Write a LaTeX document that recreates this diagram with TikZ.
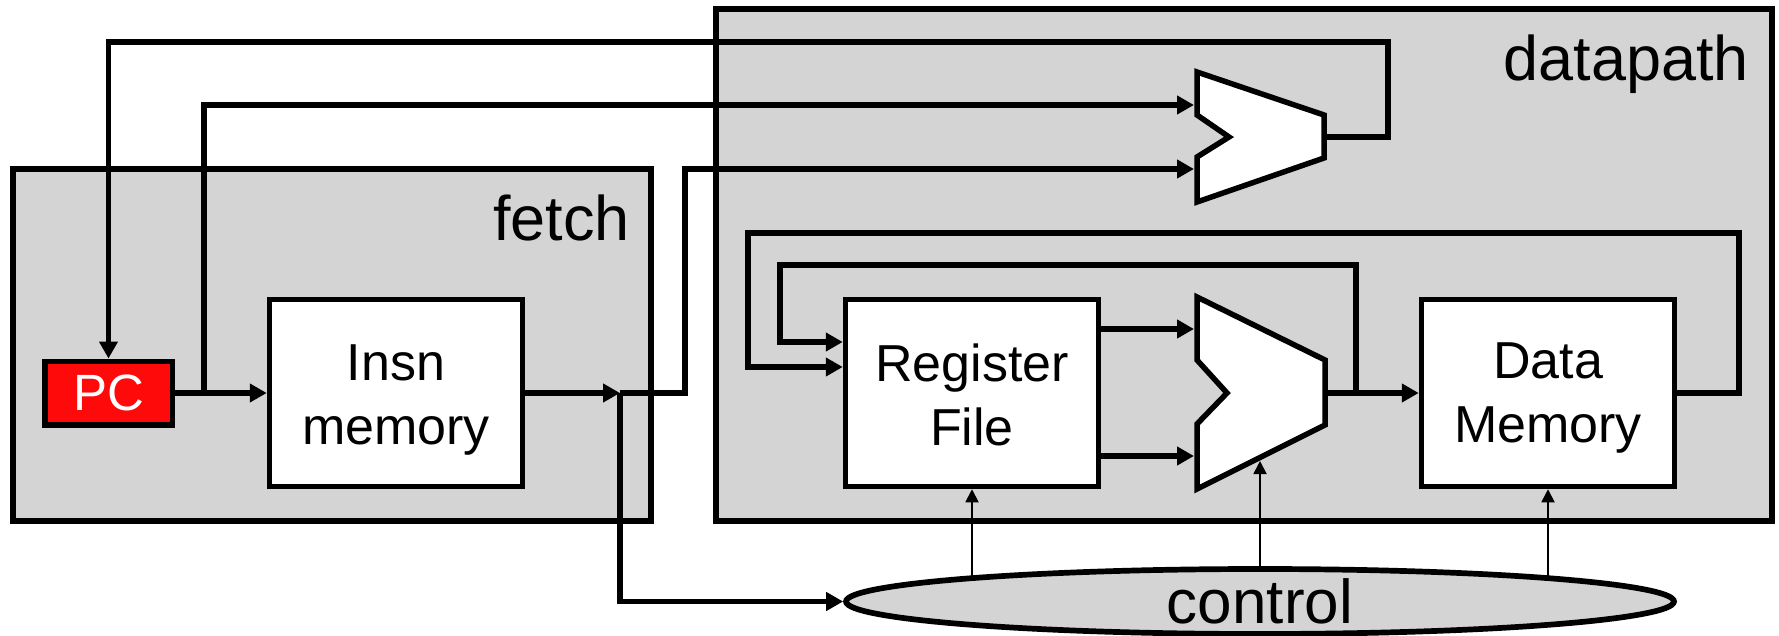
\documentclass[tikz,border=0pt]{standalone}
\usepackage{fontspec}
\setmainfont{Liberation Sans}
\usetikzlibrary{arrows.meta,shapes.geometric,calc}
\pgfdeclarelayer{foreground}
\pgfsetlayers{main,foreground}
\definecolor{panel}{RGB}{212,212,212}
\definecolor{pcred}{RGB}{255,10,10}
\begin{document}
\begin{tikzpicture}[x=1pt,y=-1pt,
  wire/.style={line width=5.5pt,-{Triangle[length=17pt,width=18pt]}},
  ctlwire/.style={line width=1.8pt,-{Triangle[length=13pt,width=13pt]}},
  panelbox/.style={draw,line width=5.5pt,fill=panel,inner sep=0pt},
  blockbox/.style={draw,line width=5.5pt,fill=white,minimum width=253pt,minimum height=187pt,inner sep=0pt},
  alushape/.style={draw,line width=5.5pt,fill=white,line join=miter},
  lbl/.style={font=\fontsize{63}{63}\selectfont,inner sep=0pt},
  boxtxt/.style={font=\fontsize{52}{64}\selectfont,align=center,inner sep=0pt},
]
\useasboundingbox (0,0) rectangle (1779,636);
\fill[white] (0,0) rectangle (1779,636);

% panels
\node[panelbox,minimum width=638pt,minimum height=352pt] (fetch) at (332,345) {};
\node[panelbox,minimum width=1056pt,minimum height=512pt] (datapath) at (1244,265) {};
\node[lbl,anchor=base east] (fetchlbl) at (630,241) {fetch};
\node[lbl,anchor=base east] (dplbl) at (1749,81) {datapath};

% blocks
\node[draw,line width=5.5pt,fill=pcred,minimum width=127.5pt,minimum height=63.5pt,inner sep=0pt,
      text=white,font=\fontsize{51}{51}\selectfont] (pc) at (108.5,393) {PC};
\node[blockbox] (imem) at (396,393) {};
\node[boxtxt,yshift=-7pt] (imemtxt) at (imem.center) {Insn\\memory};
\node[blockbox] (rf) at (972,393) {};
\node[boxtxt,yshift=-1.5pt] (rftxt) at (rf.center) {Register\\File};
\node[blockbox] (dm) at (1548,393) {};
\node[boxtxt,yshift=-5pt] (dmtxt) at (dm.center) {Data\\Memory};

% adder (upper)
\draw[alushape] (1197,72) -- (1324,115) -- (1324,158) -- (1197,202) -- (1197,157)
  -- (1229,137) -- (1197,115) -- cycle;
\coordinate (add1in) at (1194,105);
\coordinate (add2in) at (1194,169);
\coordinate (addout) at (1326.5,137);

% ALU (lower)
\draw[alushape] (1197,297) -- (1325,360) -- (1325,425) -- (1197,489) -- (1197,424)
  -- (1227,393) -- (1197,360) -- cycle;
\coordinate (alu1in) at (1194,329);
\coordinate (alu2in) at (1194,456);
\coordinate (aluout) at (1327.5,393);
\coordinate (alubot) at (1260,461);

% control
\begin{pgfonlayer}{foreground}
\node[ellipse,draw,line width=5.7pt,fill=panel,minimum width=828pt,minimum height=65pt,inner sep=0pt,
      font=\fontsize{62}{62}\selectfont] (ctrl) at (1260,601.5) {control};
\end{pgfonlayer}

% fetch wiring
\coordinate (pcbr) at (204,393);
\coordinate (jn) at (620,393);
\draw[wire] (pc.east) -- (imem.west);
\draw[wire] (pcbr) |- (add1in);
\draw[wire] (addout) -| (1388,42) -| (pc.north);
\draw[wire] (imem.east) -- (jn);
\draw[wire] (jn) -- (685,393) |- (add2in);
\draw[wire] (jn) |- (ctrl.west);

% datapath wiring
\coordinate (alubr) at (1356,393);
\draw[wire] (rf.east |- alu1in) -- (alu1in);
\draw[wire] (rf.east |- alu2in) -- (alu2in);
\draw[wire] (aluout) -- (dm.west);
\draw[wire] (alubr) |- (780,265) |- ($(rf.west)+(0,-51)$);
\draw[wire] (dm.east) -| (1739,233) -- (748,233) |- ($(rf.west)+(0,-26)$);

% control signals
\draw[ctlwire] (rf.south |- ctrl.center) -- (rf.south);
\draw[ctlwire] (alubot |- ctrl.center) -- (alubot);
\draw[ctlwire] (dm.south |- ctrl.center) -- (dm.south);
\end{tikzpicture}
\end{document}
